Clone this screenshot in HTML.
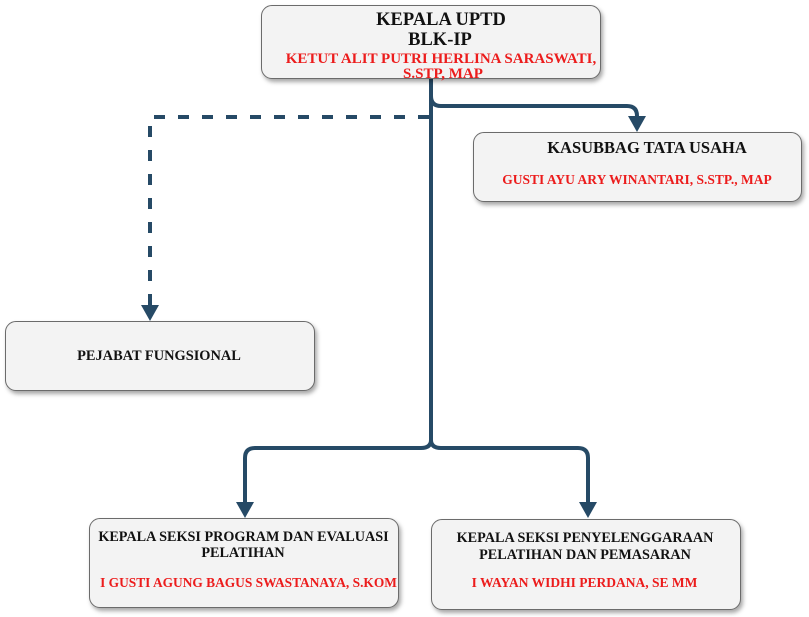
<!DOCTYPE html>
<html>
<head>
<meta charset="utf-8">
<style>
  html,body{margin:0;padding:0;background:#fff;}
  body{width:809px;height:617px;position:relative;overflow:hidden;font-family:"Liberation Serif",serif;font-weight:bold;}
  .box{position:absolute;background:#f3f3f3;border:1px solid #6b6b6b;border-radius:11px;box-shadow:2px 3px 4px rgba(0,0,0,0.35);box-sizing:border-box;}
  .t{position:absolute;width:400px;text-align:center;white-space:nowrap;color:#111;}
  .r{color:#ec1c1c;}
  svg{position:absolute;left:0;top:0;}
</style>
</head>
<body>
<svg width="809" height="617" viewBox="0 0 809 617">
  <g fill="none" stroke="#264a66" stroke-width="4" stroke-linecap="butt">
    <path d="M431 79 V440 Q431 448 421 448 H255 Q245 448 245 458 V503"/>
    <path d="M431 440 Q431 448 441 448 H578 Q588 448 588 458 V503"/>
    <path d="M431 96 Q431 106 441 106 H627 Q637 106 637 116 V117"/>
    <path d="M429 117 H150 V306" stroke-dasharray="11 13"/>
  </g>
  <g fill="#264a66">
    <polygon points="628,116 646,116 637,132"/>
    <polygon points="141,305 159,305 150,321"/>
    <polygon points="236,502 254,502 245,518"/>
    <polygon points="579,502 597,502 588,518"/>
  </g>
</svg>

<div class="box" style="left:261px;top:5px;width:340px;height:74px;"></div>
<div class="box" style="left:473px;top:132px;width:329px;height:70px;"></div>
<div class="box" style="left:5px;top:321px;width:310px;height:70px;"></div>
<div class="box" style="left:89px;top:518px;width:310px;height:90px;"></div>
<div class="box" style="left:431px;top:519px;width:310px;height:91px;"></div>

<!-- top box -->
<div class="t" style="left:241px;top:11px;font-size:18.5px;line-height:18.5px;">KEPALA UPTD</div>
<div class="t" style="left:240px;top:31px;font-size:18.5px;line-height:18.5px;">BLK-IP</div>
<div class="t r" style="left:241px;top:51.5px;font-size:15px;line-height:15px;">KETUT ALIT PUTRI HERLINA SARASWATI,</div>
<div class="t r" style="left:243px;top:67px;font-size:15px;line-height:15px;">S.STP, MAP</div>

<!-- kasubbag -->
<div class="t" style="left:447px;top:140.2px;font-size:16.5px;line-height:16.5px;">KASUBBAG TATA USAHA</div>
<div class="t r" style="left:437px;top:172.7px;font-size:13.5px;line-height:13.5px;">GUSTI AYU ARY WINANTARI, S.STP., MAP</div>

<!-- pejabat -->
<div class="t" style="left:-41px;top:348.6px;font-size:14.4px;line-height:14.4px;">PEJABAT FUNGSIONAL</div>

<!-- bottom left -->
<div class="t" style="left:43.5px;top:529.8px;font-size:14.2px;line-height:14.2px;">KEPALA SEKSI PROGRAM DAN EVALUASI</div>
<div class="t" style="left:43px;top:545.8px;font-size:14.2px;line-height:14.2px;">PELATIHAN</div>
<div class="t r" style="left:48.5px;top:575.8px;font-size:13.4px;line-height:13.4px;">I GUSTI AGUNG BAGUS SWASTANAYA, S.KOM</div>

<!-- bottom right -->
<div class="t" style="left:385px;top:531.1px;font-size:14.2px;line-height:14.2px;">KEPALA SEKSI PENYELENGGARAAN</div>
<div class="t" style="left:385px;top:548.1px;font-size:14.2px;line-height:14.2px;">PELATIHAN DAN PEMASARAN</div>
<div class="t r" style="left:384.5px;top:575.7px;font-size:13.5px;line-height:13.5px;">I WAYAN WIDHI PERDANA, SE MM</div>
</body>
</html>
